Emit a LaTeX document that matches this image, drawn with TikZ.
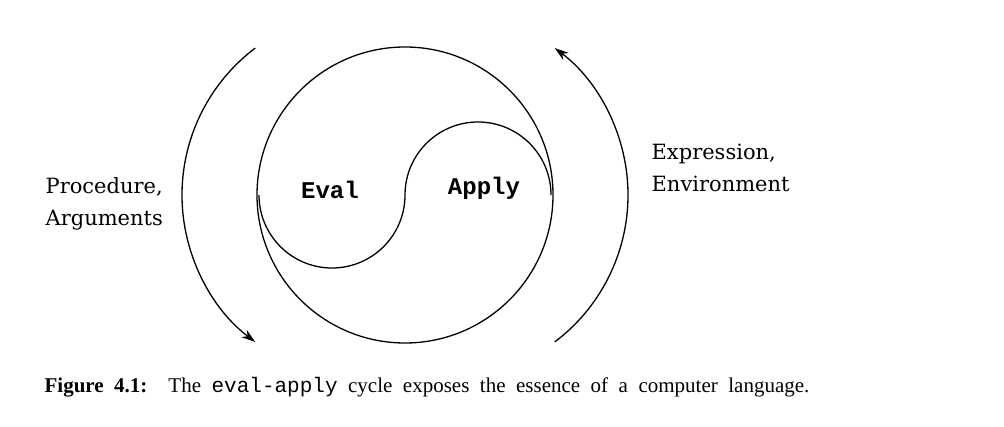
\documentclass[tikz,border=0pt]{standalone}
\usepackage{fontspec}
\setmainfont{Liberation Serif}
\setmonofont{Liberation Mono}
\newfontfamily\labelfont{DejaVu Serif}
\usetikzlibrary{arrows.meta}

\begin{document}
\begin{tikzpicture}[x=1pt, y=1pt, line width=1.3pt,
    cycle/.style={-{Stealth[length=14pt,width=9pt]}},
    side/.style={font=\labelfont\fontsize{21}{32}\selectfont, align=left, anchor=west, inner sep=0pt},
    word/.style={font=\ttfamily\bfseries\fontsize{24}{24}\selectfont}]
    \useasboundingbox (0,0) rectangle (1004,426);

    % Yin-yang
    \coordinate (mid) at (405,231);
    \draw (mid) circle (148);
    \draw (259,231) arc (180:360:73) arc (180:0:73);
    \node[word] (eval) at (330,236) {Eval};
    \node[word] (apply) at (484,238) {Apply};

    % Cycle arrows
    \draw[cycle] (mid) ++(-39,0) ++(127:184) arc (127:233:184);
    \draw[cycle] (mid) ++(39,0) ++(-53:184) arc (-53:53:184);

    % Labels
    \node[side] (procargs) at (45,222) {Procedure,\\Arguments};
    \node[side] (exprenv) at (651,258) {Expression,\\Environment};

    % Caption
    \node[anchor=base west, inner sep=0pt] (caption) at (44,34)
        {\fontsize{21}{21}\selectfont\spaceskip=0.5em plus 0.1em\textbf{Figure 4.1:}\ \ The \texttt{eval-apply} cycle exposes the essence of a computer language.};
\end{tikzpicture}
\end{document}
